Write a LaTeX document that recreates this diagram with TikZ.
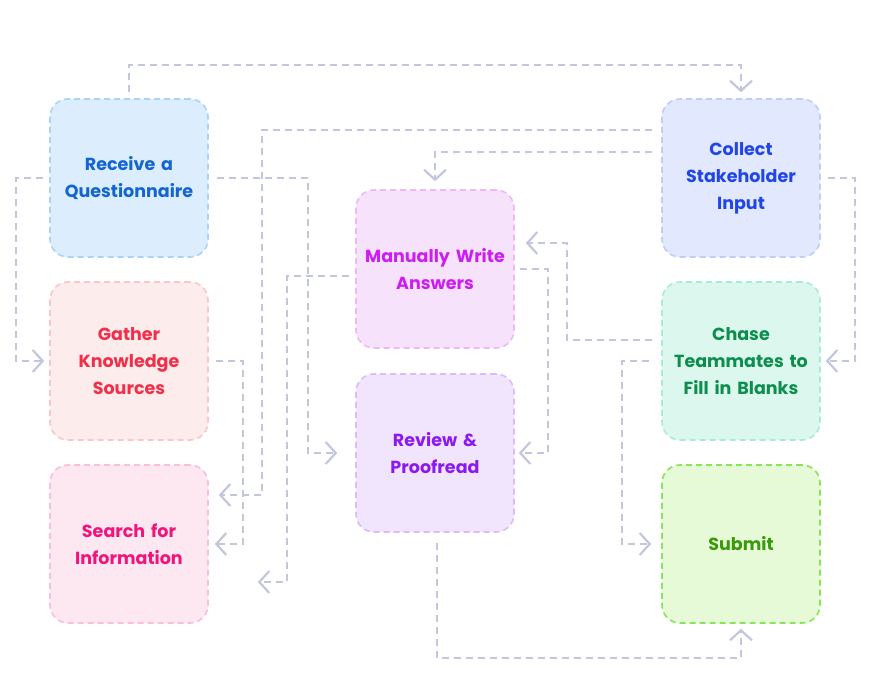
\documentclass[tikz,border=0pt]{standalone}
\usepackage{fontspec}
\setmainfont{Poppins Bold}
\usetikzlibrary{arrows.meta}
\definecolor{conn}{HTML}{C3C7DE}
\definecolor{recF}{HTML}{DCEDFD}\definecolor{recD}{HTML}{AAD3FA}\definecolor{recT}{HTML}{1565D0}
\definecolor{gatF}{HTML}{FDECEC}\definecolor{gatD}{HTML}{FBC6C9}\definecolor{gatT}{HTML}{F0304A}
\definecolor{seaF}{HTML}{FDE8F2}\definecolor{seaD}{HTML}{FBBDD9}\definecolor{seaT}{HTML}{F0157A}
\definecolor{manF}{HTML}{F7E2FC}\definecolor{manD}{HTML}{EDB8FA}\definecolor{manT}{HTML}{CC1EF0}
\definecolor{revF}{HTML}{F1E5FD}\definecolor{revD}{HTML}{DDBBFA}\definecolor{revT}{HTML}{8B1AF0}
\definecolor{colF}{HTML}{E2E8FD}\definecolor{colD}{HTML}{C0CCFA}\definecolor{colT}{HTML}{2146E8}
\definecolor{chaF}{HTML}{DCF7EE}\definecolor{chaD}{HTML}{A6EED3}\definecolor{chaT}{HTML}{0E8E4E}
\definecolor{subF}{HTML}{E6FAD8}\definecolor{subD}{HTML}{86E656}\definecolor{subT}{HTML}{3B9A0A}
\tikzset{
  box/.style={rectangle, rounded corners=18pt, minimum width=158pt, minimum height=158pt,
    inner sep=2pt, draw, line width=1.6pt, dash pattern=on 6pt off 4pt, align=center, text width=154pt,
    font=\fontsize{17.5}{27}\selectfont},
  conn/.style={draw=conn, line width=2pt, dash pattern=on 7pt off 5pt,
    -{Straight Barb[length=10pt,width=22pt,line width=2.2pt]}},
}
\begin{document}
\begin{tikzpicture}[x=1pt,y=-1pt]
\useasboundingbox (0,0) rectangle (870,700);
\node[box, fill=recF, draw=recD, text=recT] (rec) at (129,178) {Receive a\\Questionnaire};
\node[box, fill=gatF, draw=gatD, text=gatT] (gat) at (129,361) {Gather\\Knowledge\\Sources};
\node[box, fill=seaF, draw=seaD, text=seaT] (sea) at (129,544) {Search for\\Information};
\node[box, fill=manF, draw=manD, text=manT] (man) at (435,269) {Manually Write\\Answers};
\node[box, fill=revF, draw=revD, text=revT] (rev) at (435,453) {Review \&\\Proofread};
\node[box, fill=colF, draw=colD, text=colT] (col) at (741,178) {Collect\\Stakeholder\\Input};
\node[box, fill=chaF, draw=chaD, text=chaT] (cha) at (741,361) {Chase\\Teammates to\\Fill in Blanks};
\node[box, fill=subF, draw=subD, text=subT] (sub) at (741,544) {Submit};

% Receive -> Collect
\draw[conn, shorten <=6pt, shorten >=6pt] (rec.north) -- (129,65) -| (col.north);
% Receive -> Gather
\draw[conn, shorten <=6pt, shorten >=5pt] (rec.west) -- (16,178) |- (gat.west);
% Receive -> Review
\draw[conn, shorten <=8pt, shorten >=18pt] (rec.east) -- (308,178) |- (rev.west);
% Collect -> Search
\draw[conn, shorten <=9pt, shorten >=10pt] ([yshift=48pt]col.west) -- (262,130) |- ([yshift=49pt]sea.east);
% Collect -> Manual
\draw[conn, shorten <=9pt, shorten >=8pt] ([yshift=26pt]col.west) -- (435,152) -- (man.north);
% Collect -> Chase
\draw[conn, shorten <=7pt, shorten >=5pt] (col.east) -- (855,178) |- (cha.east);
% Gather -> Search
\draw[conn, shorten <=7pt, shorten >=6pt] (gat.east) -- (243,361) |- (sea.east);
% Manual -> Search
\draw[conn, shorten <=6pt, shorten >=49pt] ([yshift=-7pt]man.west) -- (287,276) |- ([yshift=-38pt]sea.east);
% Manual -> Review
\draw[conn, shorten <=5pt, shorten >=4pt] (man.east) -- (548,269) |- (rev.east);
% Chase -> Manual
\draw[conn, shorten <=9pt, shorten >=11pt] ([yshift=21pt]cha.west) -- (567,340) |- ([yshift=26pt]man.east);
% Chase -> Submit
\draw[conn, shorten <=12pt, shorten >=10pt] (cha.west) -- (622,361) |- (sub.west);
% Review -> Submit
\draw[conn, shorten <=10pt, shorten >=5pt] ([xshift=2pt]rev.south) -- (437,658) -| (sub.south);
\end{tikzpicture}
\end{document}
